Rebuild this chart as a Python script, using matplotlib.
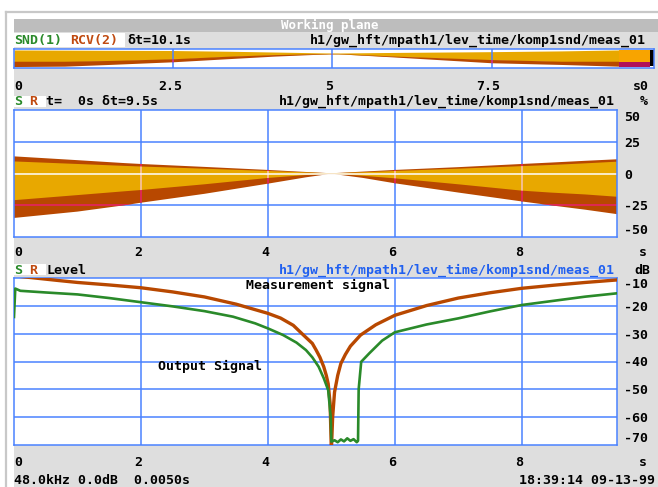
import matplotlib
matplotlib.use('Agg')
import matplotlib.pyplot as plt
import numpy as np
from matplotlib.patches import Rectangle
from matplotlib.transforms import offset_copy, blended_transform_factory

# ---------------- data ----------------
# overview strip (normalised 0..1 height), time in s
strip_t   = np.array([0, 0.8, 1.5, 2.5, 3.4, 4.1, 4.95, 5.1, 6.0, 7.5, 8.6, 9.5])
strip_top = np.array([0.95, 0.94, 0.93, 0.92, 0.88, 0.84, 0.79, 0.79, 0.82, 0.86, 0.90, 0.95])
strip_org = np.array([0.33, 0.33, 0.37, 0.46, 0.60, 0.68, 0.74, 0.74, 0.60, 0.42, 0.33, 0.33])
strip_brn = np.array([0.05, 0.07, 0.16, 0.30, 0.47, 0.60, 0.72, 0.72, 0.55, 0.25, 0.16, 0.07])
tail_t   = np.array([9.5, 9.98])
tail_top = np.array([0.95, 0.95])
tail_org = np.array([0.33, 0.33])
tail_brn = np.array([0.07, 0.07])
end_t    = np.array([9.98, 10.05])
end_top  = np.array([0.95, 0.95])
end_bot  = np.array([0.10, 0.10])
strip_ticks  = [0, 2.5, 5, 7.5]
strip_labels = ['0', '2.5', '5', '7.5']

# working plane (%), time in s
mid_t    = np.array([0, 1, 1.74, 2, 3, 4, 4.6, 4.95, 5.05, 5.5, 6, 7, 8, 8.45, 9, 9.5])
mid_top  = np.array([13.5, 10.5, 8.2, 7.5, 5.2, 2.8, 1.2, 0.3, 0.3, 1.5, 2.8, 5.0, 7.5, 8.6, 10.0, 11.2])
mid_otop = np.array([9.5, 7.5, 6.0, 5.5, 3.8, 2.0, 0.9, 0.2, 0.2, 1.0, 2.0, 3.8, 5.8, 6.7, 8.0, 9.3])
mid_obot = np.array([-21, -17, -14, -13, -8.5, -3.5, -1.2, -0.3, -0.3, -1.8, -3.8, -8.5, -13.5, -15, -16.5, -18.3])
mid_bbot = np.array([-35, -30, -25, -23, -16, -8, -3, -0.5, -0.5, -3.5, -7.7, -15, -22, -25, -28.5, -32])
mid_yticks = [50, 25, 0, -25, -50]
x_ticks  = [0, 2, 4, 6, 8]

# level (dB)
red_t  = [0, 0.33, 0.7, 1, 1.5, 2, 2.5, 3, 3.5, 4, 4.2, 4.4, 4.56, 4.7, 4.76, 4.82, 4.88, 4.92,
          4.95, 4.98, 5.0, 5.02, 5.05, 5.1, 5.15, 5.22, 5.3, 5.46, 5.7, 6, 6.5, 7, 7.5, 8, 8.5,
          9, 9.5]
red_db = [-9.2, -10, -10.9, -11.6, -12.5, -13.5, -15, -16.8, -19.4, -22.7, -24.4, -27, -30.5,
          -33.5, -35.9, -38.5, -41.9, -45, -48, -55, -72, -60, -51, -45, -40.7, -37.5, -34.5,
          -30.5, -26.8, -23.4, -19.9, -17.2, -15.3, -13.7, -12.6, -11.6, -10.7]
green_t  = [0, 0.02, 0.1, 0.5, 1, 1.5, 2, 2.5, 3, 3.45, 3.8, 4, 4.24, 4.45, 4.6, 4.7, 4.8, 4.88,
            4.95, 4.99, 5.0, 5.05, 5.1, 5.15, 5.2, 5.25, 5.3, 5.35, 5.4, 5.42, 5.43, 5.47, 5.6,
            5.8, 6, 6.5, 7, 7.5, 8, 8.5, 9, 9.5]
green_db = [-24, -13.8, -14.6, -15.2, -15.9, -17.2, -18.7, -20.2, -21.9, -23.9, -26.3, -28.1,
            -30.5, -33.2, -35.9, -38.5, -41.9, -46, -50.3, -60, -68.8, -68.3, -69, -68, -68.7,
            -67.6, -68.5, -67.9, -69, -68.5, -50, -40.1, -37, -32.5, -29.5, -26.7, -24.5, -22,
            -19.7, -18.2, -16.7, -15.5]
bot_yticks = [-10, -20, -30, -40, -50, -60, -70]

path_text = 'h1/gw_hft/mpath1/lev_time/komp1snd/meas_01'

# ---------------- style ----------------
W, H = 658, 487
GRAY_BG = '#dedede'
TITLE_BG = '#bdbdbd'
BLUE = '#4a82ff'
ORANGE = '#e8a800'
BROWN = '#b84800'
PINK = '#e8206a'
PALE = '#f8e4a0'
GREEN = '#2a8a2a'
RTXT = '#c04a10'
FONT = dict(family='DejaVu Sans Mono', weight='bold', size=9.5)

fig = plt.figure(figsize=(W / 100, H / 100), dpi=100)
fig.patch.set_facecolor('white')


def rect(x0, y0, x1, y1):
    return [x0 / W, 1 - y1 / H, (x1 - x0) / W, (y1 - y0) / H]


bg = fig.add_axes([0, 0, 1, 1])
bg.set_xlim(0, W)
bg.set_ylim(H, 0)
bg.axis('off')
bg.add_patch(Rectangle((14, 19), W - 14, H - 19, color=GRAY_BG, lw=0))
bg.add_patch(Rectangle((14, 19), W - 14, 12.5, color=TITLE_BG, lw=0))
bg.plot([6, 6], [12, H], color='#c8c8c8', lw=1.6)
bg.plot([6, W], [12, 12], color='#c8c8c8', lw=1.6)
bg.add_patch(Rectangle((14, 33), 111, 14, color='white', lw=0))
bg.add_patch(Rectangle((14, 96), 32, 11, color='white', lw=0))
bg.add_patch(Rectangle((14, 264), 32, 11, color='white', lw=0))


def T(x, y, s, color='black', ha='left', **kw):
    d = dict(FONT)
    d.update(kw)
    bg.text(x, y, s, color=color, ha=ha, va='center', **d)


T(330, 25, 'Working plane', color='white', ha='center', size=9)
T(14, 40.5, 'SND(1)', GREEN)
T(70, 40.5, 'RCV(2)', RTXT)
T(127, 40.5, 'δt=10.1s')
T(646, 40.5, path_text, ha='right')
T(649, 86, 's0', ha='right')
T(14, 101.5, 'S', GREEN)
T(29, 101.5, 'R', RTXT)
T(46, 101.5, 't=  0s δt=9.5s')
T(615, 101.5, path_text, ha='right')
T(644, 101.5, '%', ha='center')
T(643, 253, 's', ha='center')
T(14, 270, 'S', GREEN)
T(29, 270, 'R', RTXT)
T(46, 270, 'Level')
T(615, 270, path_text, color='#2060f0', ha='right')
T(642, 270, 'dB', ha='center')
T(643, 462, 's', ha='center')
T(14, 480, '48.0kHz 0.0dB  0.0050s')
T(655, 480, '18:39:14 09-13-99', ha='right')


def style(ax):
    ax.set_facecolor('white')
    for s in ax.spines.values():
        s.set_color(BLUE)
        s.set_linewidth(1.1)
    ax.set_xticks([])
    ax.set_yticks([])


def xlabels(ax, vals, labels, dy):
    base = blended_transform_factory(ax.transData, ax.transAxes)
    for i, (v, l) in enumerate(zip(vals, labels)):
        if i == 0:
            tr = offset_copy(base, fig=fig, x=0, y=-dy, units='dots')
            ax.text(v, 0, l, transform=tr, ha='left', va='center', clip_on=False, **FONT)
        else:
            tr = offset_copy(base, fig=fig, x=-3, y=-dy, units='dots')
            ax.text(v, 0, l, transform=tr, ha='center', va='center', clip_on=False, **FONT)


def ylabels(ax, vals):
    base = blended_transform_factory(ax.transAxes, ax.transData)
    n = len(vals)
    for i, v in enumerate(vals):
        dy = -7 if i == 0 else (7 if i == n - 1 else -1.5)
        tr = offset_copy(base, fig=fig, x=7, y=dy, units='dots')
        ax.text(1, v, str(v), transform=tr, ha='left', va='center',
                clip_on=False, **FONT)


# ---------------- strip ----------------
ax_s = fig.add_axes(rect(14, 49, 654, 68))
style(ax_s)
ax_s.set_xlim(0, 10.05)
ax_s.set_ylim(0, 1)
ax_s.fill_between(strip_t, strip_org, strip_top, color=ORANGE, lw=0)
bpoly = ax_s.fill(np.r_[strip_t, strip_t[::-1]], np.r_[strip_brn, strip_org[::-1]],
                  color=BROWN, lw=0)[0]
ax_s.fill_between(tail_t, tail_org, tail_top, color='#f8a400', lw=0)
ax_s.fill_between(tail_t, tail_brn, tail_org, color='#b0105a', lw=0)
ax_s.fill_between(end_t, end_bot, end_top, color='black', lw=0)
for v in strip_ticks[1:]:
    ax_s.axvline(v, color=BLUE, lw=1.1, zorder=3)
    l2 = ax_s.axvline(v, color=PINK, lw=1.1, zorder=3.1)
    l2.set_clip_path(bpoly)
xlabels(ax_s, strip_ticks, strip_labels, 18)

# ---------------- middle ----------------
ax_m = fig.add_axes(rect(14, 110, 617, 237))
style(ax_m)
ax_m.set_xlim(0, 9.5)
ax_m.set_ylim(-50, 50)
for v in x_ticks[1:]:
    ax_m.axvline(v, color=BLUE, lw=1.1, zorder=1)
for v in [25, -25]:
    ax_m.axhline(v, color=BLUE, lw=1.1, zorder=1)
env = ax_m.fill(np.r_[mid_t, mid_t[::-1]], np.r_[mid_top, mid_bbot[::-1]],
                color=BROWN, lw=0, zorder=2)[0]
org = ax_m.fill(np.r_[mid_t, mid_t[::-1]], np.r_[mid_otop, mid_obot[::-1]],
                color=ORANGE, lw=0, zorder=2.1)[0]
for v in x_ticks[1:]:
    a = ax_m.axvline(v, color=PINK, lw=1.1, zorder=2.2)
    a.set_clip_path(env)
    b = ax_m.axvline(v, color=PALE, lw=1.1, zorder=2.3)
    b.set_clip_path(org)
for v in [25, -25]:
    a = ax_m.axhline(v, color=PINK, lw=1.1, zorder=2.2)
    a.set_clip_path(env)
ax_m.axhline(0, color='white', lw=1.1, zorder=2.4)
xlabels(ax_m, x_ticks, [str(v) for v in x_ticks], 16)
ylabels(ax_m, mid_yticks)

# ---------------- bottom ----------------
ax_b = fig.add_axes(rect(14, 278, 617, 445))
style(ax_b)
ax_b.set_xlim(0, 9.5)
ax_b.set_ylim(-70, -10)
for v in x_ticks[1:]:
    ax_b.axvline(v, color=BLUE, lw=1.1, zorder=1)
for v in bot_yticks[1:-1]:
    ax_b.axhline(v, color=BLUE, lw=1.1, zorder=1)
ax_b.plot(red_t, red_db, color=BROWN, lw=2.4, zorder=3, solid_joinstyle='round')
ax_b.plot(green_t, green_db, color=GREEN, lw=1.9, zorder=4, solid_joinstyle='round')
ax_b.text(0.385, 0.958, 'Measurement signal', transform=ax_b.transAxes, ha='left',
          va='center', **FONT)
ax_b.text(0.239, 0.469, 'Output Signal', transform=ax_b.transAxes, ha='left',
          va='center', **FONT)
xlabels(ax_b, x_ticks, [str(v) for v in x_ticks], 17)
ylabels(ax_b, bot_yticks)

fig.savefig('out.png', dpi=100, facecolor=fig.get_facecolor())
